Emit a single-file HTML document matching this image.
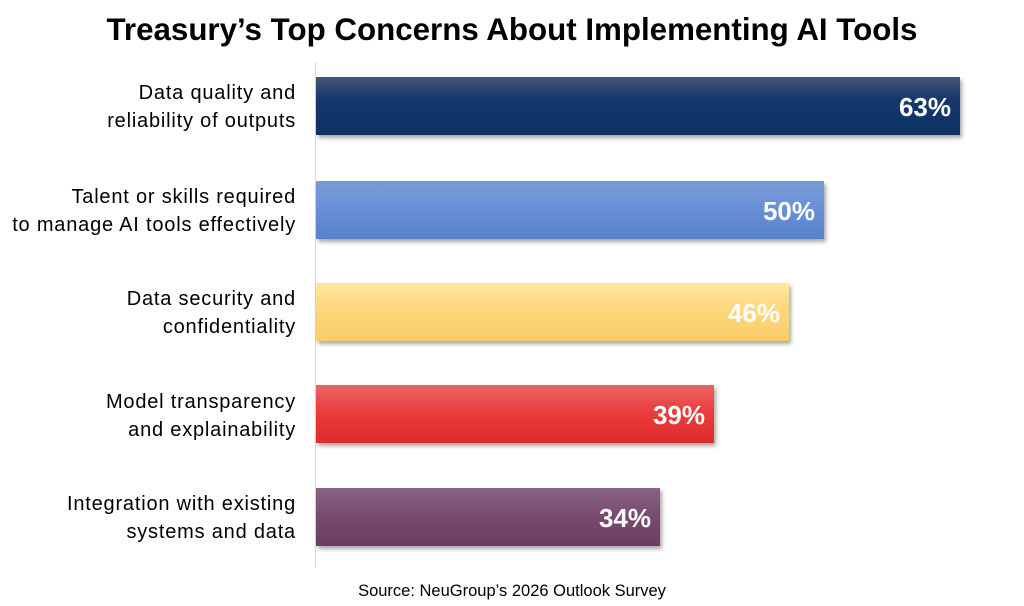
<!DOCTYPE html>
<html><head><meta charset="utf-8"><style>
body{margin:0;background:#fff;width:1024px;height:606px;position:relative;overflow:hidden;font-family:"Liberation Sans",sans-serif}
.t{position:absolute;left:0;width:1024px;top:12px;text-align:center;font-size:31.3px;font-weight:bold;color:#000}
.ax{position:absolute;left:315px;top:62px;width:1px;height:506px;background:#d9d9d9}
.b{position:absolute;left:316px;height:58px;box-shadow:2px 3px 4px rgba(0,0,0,.35)}
.b span{position:absolute;right:9px;top:0;line-height:60px;color:#fff;font-weight:bold;font-size:26px}
.l{position:absolute;right:728px;text-align:right;font-size:20px;letter-spacing:0.8px;line-height:28px;color:#000;white-space:nowrap}
.s{position:absolute;left:0;width:1024px;top:582px;text-align:center;font-size:16.5px;color:#000}
</style></head><body>
<div class="t">Treasury’s Top Concerns About Implementing AI Tools</div>
<div class="ax"></div>
<div class="l" style="top:79px">Data quality and<br>reliability of outputs</div>
<div class="l" style="top:183px">Talent or skills required<br>to manage AI tools effectively</div>
<div class="l" style="top:285px">Data security and<br>confidentiality</div>
<div class="l" style="top:388px">Model transparency<br>and explainability</div>
<div class="l" style="top:490px">Integration with existing<br>systems and data</div>
<div class="b" style="top:77px;width:644px;background:linear-gradient(#44567a,#15376b 40%,#0b3265)"><span>63%</span></div>
<div class="b" style="top:181px;width:508px;background:linear-gradient(#7a9bd6,#6890d8 50%,#5680c8)"><span>50%</span></div>
<div class="b" style="top:283px;width:473px;background:linear-gradient(#fde7a0,#fdd77a 50%,#f8cd6a)"><span>46%</span></div>
<div class="b" style="top:385px;width:398px;background:linear-gradient(#ea6565,#ea3a3a 50%,#dc2c2c)"><span>39%</span></div>
<div class="b" style="top:488px;width:344px;background:linear-gradient(#8a6384,#784a6c 50%,#6e3c62)"><span>34%</span></div>
<div class="s">Source: NeuGroup’s 2026 Outlook Survey</div>
</body></html>
